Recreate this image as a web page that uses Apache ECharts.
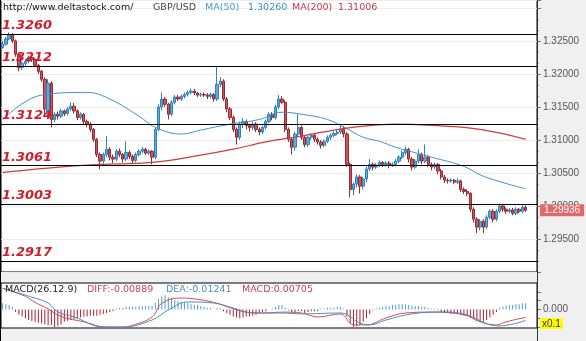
<!DOCTYPE html>
<html>
<head>
<meta charset="utf-8">
<script src="https://cdn.jsdelivr.net/npm/echarts@6/dist/echarts.min.js"></script>
<style>html,body{margin:0;padding:0;background:#f0f0f0}#c{width:586px;height:341px}</style>
</head>
<body>
<div id="c"></div>
<script>
// ---- DATA ----
const symbol = 'GBP/USD';
const site = 'http://www.deltastock.com/';
const ma50Last = '1.30260';
const ma200Last = '1.31006';
const lastPrice = 1.29936;
const levels = [1.3260, 1.3212, 1.3124, 1.3061, 1.3003, 1.2917];
const priceTicks = [1.295, 1.300, 1.305, 1.310, 1.315, 1.320, 1.325];
const macdHeader = { params: 'MACD(26.12.9)', diff: '-0.00889', dea: '-0.01241', macd: '0.00705' };
const slotCount = 165; // 162 candles + 3 empty slots to the right
// candles: [open, close, low, high]
const candles = [
[1.3240,1.3245,1.3238,1.3250],[1.3245,1.3253,1.3243,1.3256],[1.3253,1.3259,1.3251,1.3263],[1.3259,1.3250,1.3247,1.3262],
[1.3250,1.3230,1.3226,1.3252],[1.3230,1.3210,1.3204,1.3232],[1.3210,1.3216,1.3206,1.3219],[1.3216,1.3219,1.3212,1.3222],
[1.3219,1.3225,1.3216,1.3228],[1.3225,1.3222,1.3218,1.3229],[1.3222,1.3213,1.3210,1.3224],[1.3213,1.3204,1.3200,1.3215],
[1.3204,1.3192,1.3188,1.3206],[1.3192,1.3147,1.3136,1.3195],[1.3140,1.3186,1.3136,1.3192],[1.3186,1.3131,1.3119,1.3189],
[1.3131,1.3139,1.3127,1.3142],[1.3139,1.3136,1.3131,1.3143],[1.3136,1.3144,1.3133,1.3147],[1.3144,1.3140,1.3136,1.3146],
[1.3140,1.3147,1.3137,1.3150],[1.3147,1.3151,1.3144,1.3157],[1.3151,1.3144,1.3140,1.3156],[1.3144,1.3134,1.3130,1.3146],
[1.3134,1.3139,1.3131,1.3142],[1.3139,1.3128,1.3124,1.3141],[1.3128,1.3124,1.3119,1.3131],[1.3124,1.3116,1.3112,1.3127],
[1.3116,1.3101,1.3097,1.3118],[1.3101,1.3078,1.3074,1.3103],[1.3078,1.3068,1.3056,1.3081],[1.3068,1.3078,1.3062,1.3081],
[1.3078,1.3086,1.3074,1.3106],[1.3086,1.3074,1.3069,1.3089],[1.3074,1.3071,1.3065,1.3078],[1.3071,1.3083,1.3068,1.3086],
[1.3083,1.3078,1.3074,1.3087],[1.3078,1.3071,1.3066,1.3080],[1.3071,1.3081,1.3068,1.3098],[1.3081,1.3075,1.3071,1.3084],
[1.3075,1.3069,1.3065,1.3078],[1.3069,1.3078,1.3066,1.3081],[1.3078,1.3083,1.3075,1.3086],[1.3083,1.3086,1.3080,1.3089],
[1.3086,1.3080,1.3077,1.3088],[1.3080,1.3083,1.3077,1.3086],[1.3083,1.3074,1.3063,1.3085],[1.3074,1.3116,1.3071,1.3119],
[1.3116,1.3150,1.3113,1.3154],[1.3150,1.3162,1.3145,1.3172],[1.3162,1.3154,1.3150,1.3165],[1.3154,1.3139,1.3131,1.3156],
[1.3139,1.3157,1.3136,1.3160],[1.3157,1.3165,1.3154,1.3168],[1.3165,1.3162,1.3159,1.3168],[1.3162,1.3166,1.3159,1.3169],
[1.3166,1.3169,1.3163,1.3172],[1.3169,1.3172,1.3166,1.3175],[1.3172,1.3174,1.3169,1.3178],[1.3174,1.3171,1.3168,1.3177],
[1.3171,1.3168,1.3165,1.3173],[1.3168,1.3169,1.3165,1.3172],[1.3169,1.3168,1.3165,1.3172],[1.3168,1.3166,1.3162,1.3171],
[1.3166,1.3169,1.3163,1.3172],[1.3169,1.3162,1.3158,1.3171],[1.3162,1.3184,1.3159,1.3212],[1.3184,1.3189,1.3180,1.3195],
[1.3189,1.3162,1.3159,1.3192],[1.3162,1.3147,1.3142,1.3165],[1.3147,1.3134,1.3130,1.3150],[1.3134,1.3116,1.3112,1.3137],
[1.3116,1.3104,1.3093,1.3119],[1.3104,1.3124,1.3100,1.3128],[1.3124,1.3128,1.3118,1.3133],[1.3128,1.3122,1.3116,1.3131],
[1.3122,1.3119,1.3113,1.3125],[1.3119,1.3124,1.3115,1.3128],[1.3124,1.3116,1.3112,1.3127],[1.3116,1.3112,1.3107,1.3119],
[1.3112,1.3119,1.3109,1.3122],[1.3119,1.3128,1.3116,1.3131],[1.3128,1.3139,1.3125,1.3142],[1.3139,1.3134,1.3130,1.3142],
[1.3134,1.3150,1.3131,1.3153],[1.3150,1.3162,1.3147,1.3168],[1.3162,1.3157,1.3154,1.3166],[1.3157,1.3116,1.3112,1.3160],
[1.3116,1.3101,1.3097,1.3119],[1.3101,1.3089,1.3078,1.3104],[1.3089,1.3109,1.3084,1.3112],[1.3109,1.3119,1.3104,1.3139],
[1.3119,1.3104,1.3100,1.3122],[1.3104,1.3093,1.3089,1.3107],[1.3093,1.3104,1.3089,1.3107],[1.3104,1.3107,1.3100,1.3110],
[1.3107,1.3101,1.3097,1.3110],[1.3101,1.3097,1.3093,1.3104],[1.3097,1.3092,1.3087,1.3100],[1.3092,1.3098,1.3089,1.3101],
[1.3098,1.3104,1.3095,1.3107],[1.3104,1.3107,1.3100,1.3110],[1.3107,1.3110,1.3104,1.3113],[1.3110,1.3112,1.3107,1.3115],
[1.3112,1.3116,1.3109,1.3122],[1.3116,1.3109,1.3104,1.3121],[1.3109,1.3063,1.3059,1.3112],[1.3063,1.3025,1.3013,1.3066],
[1.3025,1.3033,1.3016,1.3036],[1.3033,1.3044,1.3028,1.3048],[1.3044,1.3030,1.3019,1.3047],[1.3030,1.3041,1.3025,1.3044],
[1.3041,1.3056,1.3036,1.3060],[1.3056,1.3063,1.3053,1.3071],[1.3063,1.3059,1.3054,1.3066],[1.3059,1.3062,1.3056,1.3065],
[1.3062,1.3066,1.3059,1.3069],[1.3066,1.3063,1.3059,1.3068],[1.3063,1.3065,1.3060,1.3068],[1.3065,1.3062,1.3057,1.3068],
[1.3062,1.3063,1.3059,1.3066],[1.3063,1.3068,1.3060,1.3071],[1.3068,1.3074,1.3065,1.3077],[1.3074,1.3081,1.3071,1.3084],
[1.3081,1.3086,1.3077,1.3090],[1.3086,1.3071,1.3066,1.3088],[1.3071,1.3059,1.3054,1.3074],[1.3059,1.3068,1.3056,1.3071],
[1.3068,1.3078,1.3065,1.3086],[1.3078,1.3068,1.3063,1.3081],[1.3068,1.3074,1.3065,1.3093],[1.3074,1.3063,1.3059,1.3077],
[1.3063,1.3059,1.3054,1.3066],[1.3059,1.3063,1.3056,1.3066],[1.3063,1.3053,1.3048,1.3065],[1.3053,1.3044,1.3040,1.3056],
[1.3044,1.3039,1.3035,1.3047],[1.3039,1.3038,1.3034,1.3042],[1.3038,1.3039,1.3035,1.3042],[1.3039,1.3036,1.3033,1.3041],
[1.3036,1.3038,1.3033,1.3042],[1.3038,1.3025,1.3021,1.3040],[1.3025,1.3022,1.3018,1.3028],[1.3022,1.3019,1.3015,1.3025],
[1.3019,1.2995,1.2991,1.3021],[1.2995,1.2980,1.2975,1.2998],[1.2980,1.2968,1.2959,1.2983],[1.2968,1.2977,1.2963,1.2980],
[1.2977,1.2968,1.2959,1.2980],[1.2968,1.2983,1.2965,1.2986],[1.2983,1.2992,1.2980,1.2995],[1.2992,1.2980,1.2975,1.2995],
[1.2980,1.2992,1.2977,1.2995],[1.2992,1.3000,1.2989,1.3004],[1.3000,1.2995,1.2991,1.3003],[1.2995,1.2992,1.2988,1.2998],
[1.2992,1.2994,1.2989,1.2997],[1.2994,1.2989,1.2986,1.2997],[1.2989,1.2995,1.2986,1.2998],[1.2995,1.2992,1.2989,1.2997],
[1.2992,1.2998,1.2989,1.3003],[1.2998,1.29936,1.2991,1.3001]
];
// moving averages: [candle index, value]
const ma50 = [[0,1.3131],[12,1.3168],[26,1.3172],[33,1.3162],[42,1.3136],[47,1.3119],[55,1.3109],[61,1.3115],[70,1.3124],
  [79,1.3131],[86,1.3142],[92,1.3139],[100,1.3131],[106,1.3117],[111,1.3104],[116,1.3098],[121,1.3089],[132,1.3074],
  [142,1.3060],[148,1.3045],[161,1.3026]];
const ma200 = [[0,1.3051],[20,1.3060],[30,1.3063],[46,1.3066],[61,1.3077],[71,1.3086],[81,1.3097],[92,1.3106],[102,1.3115],
  [111,1.3121],[121,1.3124],[132,1.3122],[147,1.3116],[161,1.3101]];
// MACD panel
const macdHist = [
0.007,0.006,0.005,0.003,
-0.003,-0.006,-0.008,-0.010,-0.012,-0.013,-0.014,-0.015,-0.016,-0.017,-0.018,-0.018,
-0.020,-0.019,-0.017,
-0.014,-0.013,-0.012,-0.011,-0.010,-0.009,-0.008,-0.008,-0.007,-0.007,-0.007,-0.006,
-0.005,-0.004,-0.003,-0.002,0.001,
0.002,0.002,0.003,0.003,0.003,0.003,0.004,0.004,0.004,0.004,0.004,
0.008,0.012,0.015,0.016,0.014,0.013,0.011,
0.010,0.009,0.008,0.007,0.006,0.005,0.005,0.004,0.003,0.002,0.002,
0.000,0.002,0.002,-0.002,-0.004,-0.006,-0.008,-0.009,
-0.010,-0.009,-0.008,-0.008,-0.007,-0.006,
-0.004,-0.003,-0.002,0.000,0.001,0.003,0.005,0.005,0.002,-0.001,-0.003,-0.003,-0.002,-0.002,
-0.004,-0.003,-0.002,-0.002,-0.002,0.001,0.001,0.002,0.002,0.002,0.003,0.003,0.001,
-0.008,-0.016,-0.020,-0.019,-0.018,-0.014,-0.010,
-0.005,-0.001,0.001,
0.002,0.003,0.004,0.004,0.005,0.005,0.006,0.006,0.006,0.005,0.004,0.004,0.004,0.003,
0.003,0.002,0.001,0.001,-0.001,
-0.003,-0.004,-0.004,-0.005,-0.005,-0.005,-0.006,-0.007,-0.007,-0.009,-0.011,-0.013,-0.014,-0.014,-0.012,-0.009,-0.006,-0.003,
0.002,0.003,0.004,0.005,0.005,0.006,0.006,0.007,0.00705
];
const macdDiff = [[0,0.024],[7,0.015],[10,0.008],[14,0.0006],[18,-0.008],[25,-0.014],[32,-0.020],[37,-0.020],[40,-0.018],
  [46,-0.0085],[49,0.007],[55,0.013],[61,0.011],[66,0.007],[70,0.002],[75,-0.003],[81,-0.004],[86,-0.003],[92,-0.004],
  [97,-0.0085],[104,-0.005],[108,-0.0175],[112,-0.0175],[118,-0.0096],[124,-0.004],[132,-0.003],[142,-0.006],
  [147,-0.014],[152,-0.0175],[155,-0.014],[161,-0.00889]];
const macdDea = [[0,0.024],[9,0.014],[14,0.0073],[17,-0.0028],[22,-0.0085],[31,-0.0198],[37,-0.0198],[46,-0.0119],
  [51,-0.0006],[57,0.0085],[65,0.0073],[71,0.0017],[77,-0.004],[86,-0.004],[92,-0.005],[104,-0.004],[110,-0.0153],
  [113,-0.0175],[118,-0.0119],[126,-0.005],[135,-0.0028],[143,-0.0062],[150,-0.0175],[153,-0.0186],[161,-0.01241]];
const macdTicks = [-0.02, -0.01, 0, 0.01, 0.02];
const categories = Array.from({length: slotCount}, (_, i) => String(i));

// ---- CHART ----
const chart = echarts.init(document.getElementById('c'), null, {renderer: 'canvas'});
const UP = '#5aaedf', UPB = '#2f83bd', DN = '#d2545b', DNB = '#962a30';
const redLab = '#cf1f2a';
const font = 'DejaVu Sans';
const hdr = '9.5px "DejaVu Sans"';
chart.setOption({
  animation: false,
  backgroundColor: '#f0f0f0',
  grid: [
    {left: 1, right: 49, top: 0, height: 272, show: true, backgroundColor: '#fff', borderColor: '#000', borderWidth: 1},
    {left: 1, right: 49, top: 283, height: 45, show: true, backgroundColor: '#fff', borderColor: '#000', borderWidth: 1}
  ],
  xAxis: [
    {type: 'category', gridIndex: 0, data: categories, boundaryGap: true, show: false},
    {type: 'category', gridIndex: 1, data: categories, boundaryGap: true, show: false}
  ],
  yAxis: [
    {type: 'value', gridIndex: 0, position: 'right', min: 1.29, max: 1.3312, interval: 0.005,
     axisLine: {show: true, lineStyle: {color: '#333'}},
     axisTick: {show: true, length: 4, lineStyle: {color: '#777'}},
     minorTick: {show: true, splitNumber: 3, length: 2, lineStyle: {color: '#999'}},
     axisLabel: {color: '#555', fontSize: 10, fontFamily: 'Liberation Sans', margin: 6,
       formatter: v => priceTicks.some(t => Math.abs(t - v) < 1e-6) ? v.toFixed(5) : ''},
     splitLine: {show: true, lineStyle: {color: '#ececec'}}},
    {type: 'value', gridIndex: 1, position: 'right', min: -0.021, max: 0.030,
     axisLine: {show: true, lineStyle: {color: '#333'}},
     axisTick: {show: true, length: 4, lineStyle: {color: '#777'}, customValues: macdTicks},
     axisLabel: {color: '#555', fontSize: 10, fontFamily: 'Liberation Sans', margin: 6, customValues: [0],
       formatter: v => v.toFixed(3)},
     splitLine: {show: false}}
  ],
  series: [
    {type: 'candlestick', xAxisIndex: 0, yAxisIndex: 0, data: candles, barWidth: 2.8, clip: false,
     itemStyle: {color: UP, borderColor: UPB, color0: DN, borderColor0: DNB, borderWidth: 1},
     markLine: {symbol: 'none', silent: true, animation: false, precision: 5,
       lineStyle: {color: '#000', width: 1, type: 'solid'},
       label: {show: true, position: 'insideStartTop', distance: [1, 2], color: redLab, fontSize: 13,
               fontWeight: 'bold', fontStyle: 'italic', fontFamily: font, formatter: p => p.value.toFixed(4)},
       data: levels.map(v => ({yAxis: v})).concat([{yAxis: lastPrice,
         lineStyle: {width: 0, color: 'rgba(0,0,0,0)', opacity: 1},
         label: {position: 'end', distance: 3, color: '#fff', opacity: 1, backgroundColor: '#e06a6a', fontSize: 10,
                 fontWeight: 'normal', fontStyle: 'normal', fontFamily: 'Liberation Sans', padding: [1, 4, 1, 4],
                 formatter: p => p.value.toFixed(5)}}])}},
    {type: 'line', xAxisIndex: 0, yAxisIndex: 0, data: ma50, smooth: 0.4, showSymbol: false,
     lineStyle: {color: '#3f95c8', width: 1}},
    {type: 'line', xAxisIndex: 0, yAxisIndex: 0, data: ma200, smooth: 0.4, showSymbol: false,
     lineStyle: {color: '#d43a3a', width: 1.2}},
    {type: 'bar', xAxisIndex: 1, yAxisIndex: 1, data: macdHist, barWidth: 1,
     itemStyle: {color: p => p.value >= 0 ? '#4aa0d2' : '#a3222f'}},
    {type: 'line', xAxisIndex: 1, yAxisIndex: 1, data: macdDiff, smooth: 0.4, showSymbol: false,
     lineStyle: {color: '#d8485a', width: 1}},
    {type: 'line', xAxisIndex: 1, yAxisIndex: 1, data: macdDea, smooth: 0.4, showSymbol: false,
     lineStyle: {color: '#4a8fbf', width: 1}}
  ],
  graphic: [
    {type: 'line', shape: {x1: 537.5, y1: 0, x2: 537.5, y2: 341}, style: {stroke: '#333', lineWidth: 1}, z: 10},
    {type: 'line', shape: {x1: 0.5, y1: 0, x2: 0.5, y2: 341}, style: {stroke: '#000', lineWidth: 1}, z: 10},
    {type: 'text', x: 3, y: 3, style: {text: site, fill: '#111', font: hdr}, z: 10},
    {type: 'text', x: 153, y: 3, style: {text: symbol, fill: '#444', font: hdr}, z: 10},
    {type: 'text', x: 205, y: 3, style: {text: 'MA(50)', fill: '#4a9fd0', font: hdr}, z: 10},
    {type: 'text', x: 248, y: 3, style: {text: ma50Last, fill: '#3a8fc8', font: hdr}, z: 10},
    {type: 'text', x: 292, y: 3, style: {text: 'MA(200)', fill: '#c23a4a', font: hdr}, z: 10},
    {type: 'text', x: 338, y: 3, style: {text: ma200Last, fill: '#c23a4a', font: hdr}, z: 10},
    {type: 'text', x: 5, y: 285, style: {text: macdHeader.params, fill: '#222', font: hdr}, z: 10},
    {type: 'text', x: 87, y: 285, style: {text: 'DIFF:' + macdHeader.diff, fill: '#c8405a', font: hdr}, z: 10},
    {type: 'text', x: 166, y: 285, style: {text: 'DEA:' + macdHeader.dea, fill: '#4a8fbf', font: hdr}, z: 10},
    {type: 'text', x: 242, y: 285, style: {text: 'MACD:' + macdHeader.macd, fill: '#c8405a', font: hdr}, z: 10},
    {type: 'text', x: 540, y: 318, style: {text: 'x0.1', fill: '#333', backgroundColor: '#ffff00', padding: [1, 2, 0, 2],
      font: '10px "Liberation Sans"'}, z: 10}
  ]
});
</script>
</body>
</html>
